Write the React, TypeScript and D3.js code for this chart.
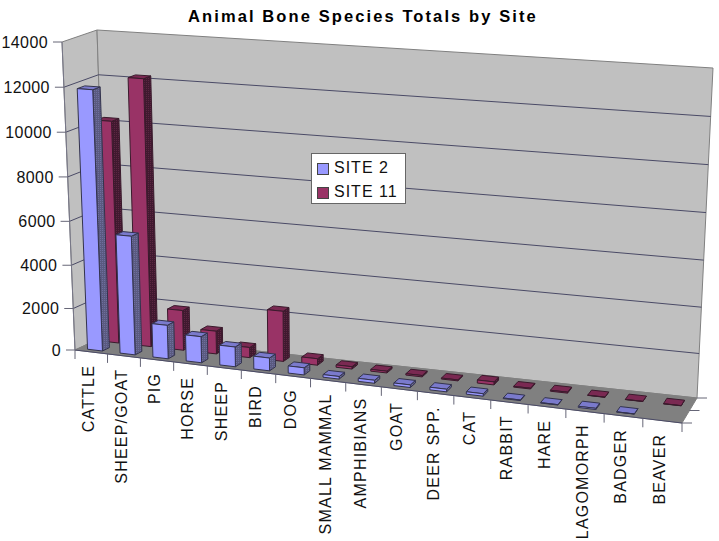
import React, { useEffect, useRef } from 'react';
import * as d3 from 'd3'

const categories = ['CATTLE', 'SHEEP/GOAT', 'PIG', 'HORSE', 'SHEEP', 'BIRD', 'DOG', 'SMALL MAMMAL', 'AMPHIBIANS', 'GOAT', 'DEER SPP.', 'CAT', 'RABBIT', 'HARE', 'LAGOMORPH', 'BADGER', 'BEAVER']
const site2 = [11900, 5500, 1600, 1250, 950, 620, 350, 130, 150, 130, 130, 120, 30, 20, 60, 10, 0]
const site11 = [10200, 12200, 1900, 1100, 500, 2350, 320, 120, 90, 70, 50, 150, 40, 50, 10, 10, 10]
const yTicks = [0, 2000, 4000, 6000, 8000, 10000, 12000, 14000]
const depthTicks = [0, 0.5, 1]

type Pt = [number, number]

// corners of the plot box on screen, [front-left, front-right, back-right, back-left]
const floorBox: Pt[] = [[75, 350], [682, 423], [697, 398], [107, 335]]
const topBox: Pt[] = [[62, 42], [698, 83], [713, 68], [97, 30]]
const perspective = 1.104

const xScale = d3.scaleLinear().domain([0, categories.length]).range([0, 1])
const yScale = d3.scalePow().exponent(1.03).domain([0, 14000]).range([0, 1])

const bilinear = (q: Pt[], u: number, z: number): Pt => {
  const a = d3.interpolateArray(q[0], q[1])(u)
  const b = d3.interpolateArray(q[3], q[2])(u)
  return d3.interpolateArray(a, b)(z) as Pt
}

// category position, depth 0..1 and value to a screen point
const project = (cat: number, z: number, value: number): Pt => {
  const t = xScale(cat)
  const u = t / (perspective + (1 - perspective) * t)
  const low = bilinear(floorBox, u, z)
  const high = bilinear(topBox, u, z)
  return d3.interpolateArray(low, high)(yScale(value)) as Pt
}

const App: React.FC = () => {
  const svgRef = useRef() as React.MutableRefObject<SVGSVGElement>

  useEffect(() => {
    const svg = d3.select(svgRef.current)
    svg.html('')
    const n = categories.length
    const line = d3.line()

    // the dithered shading of the bar sides
    const defs = svg.append('defs')
    const dither = (id: string, base: string, dot: string) => {
      const p = defs.append('pattern')
        .attr('id', id)
        .attr('width', 2).attr('height', 2)
        .attr('patternUnits', 'userSpaceOnUse')
      p.append('rect').attr('width', 2).attr('height', 2).attr('fill', base)
      p.append('rect').attr('width', 1).attr('height', 1).attr('fill', dot)
    }
    dither('side-blue', '#5a5a80', '#6e6e9e')
    dither('side-red', '#40192f', '#5c2642')

    const face = (pts: Pt[], fill: string, stroke: string) => {
      svg.append('path')
        .attr('d', line(pts) + 'Z')
        .attr('fill', fill)
        .attr('stroke', stroke)
        .attr('stroke-width', 1)
        .attr('stroke-linejoin', 'round')
    }
    const seg = (a: Pt, b: Pt, stroke: string, w = 1) => {
      svg.append('path')
        .attr('d', line([a, b]))
        .attr('fill', 'none')
        .attr('stroke', stroke)
        .attr('stroke-width', w)
    }

    // walls and floor
    face([project(0, 0, 0), project(0, 1, 0), project(0, 1, 14000), project(0, 0, 14000)], '#c0c0c0', '#808080')
    face([project(0, 1, 0), project(n, 1, 0), project(n, 1, 14000), project(0, 1, 14000)], '#c0c0c0', '#808080')
    face([project(0, 0, 0), project(n, 0, 0), project(n, 1, 0), project(0, 1, 0)], '#808080', '#808080')

    // gridlines
    yTicks.slice(1, -1).forEach(v => {
      seg(project(0, 0, v), project(0, 1, v), '#4a4a66')
      seg(project(0, 1, v), project(n, 1, v), '#4a4a66')
    })

    // axes
    seg(project(0, 0, 0), project(n, 0, 0), '#4a4a66')
    seg(project(0, 0, 0), project(0, 0, 14000), '#777788')
    yTicks.forEach(v => {
      const [x, y] = project(0, 0, v)
      seg([x - 9, y], [x, y], '#666677')
      svg.append('text')
        .attr('x', x - 14)
        .attr('y', y + 6)
        .attr('text-anchor', 'end')
        .attr('font-family', '"Liberation Sans", Arial, sans-serif')
        .attr('font-size', 16)
        .attr('letter-spacing', 0.4)
        .attr('fill', '#111')
        .text(v)
    })
    d3.range(n + 1).forEach(i => {
      const [x, y] = project(i, 0, 0)
      seg([x, y], [x, y + 9], '#666677')
    })
    depthTicks.forEach(z => {
      const [x, y] = project(n, z, 0)
      seg([x, y], [x + 10, y], '#666677')
    })

    // bars, back row first
    const bar = (i: number, value: number, z0: number, z1: number, front: string, side: string, top: string, edge: string) => {
      const x0 = i + 0.27
      const x1 = i + 0.73
      face([project(x1, z0, 0), project(x1, z1, 0), project(x1, z1, value), project(x1, z0, value)], side, edge)
      face([project(x0, z0, value), project(x1, z0, value), project(x1, z1, value), project(x0, z1, value)], top, edge)
      face([project(x0, z0, 0), project(x1, z0, 0), project(x1, z0, value), project(x0, z0, value)], front, edge)
    }
    site11.forEach((v, i) => bar(i, v, 0.64, 0.86, '#993366', 'url(#side-red)', '#7a2952', '#3a1a2c'))
    site2.forEach((v, i) => {
      if (v > 0) bar(i, v, 0.12, 0.34, '#9999ff', 'url(#side-blue)', '#7a7acc', '#33334d')
    })

    // category labels
    categories.forEach((c, i) => {
      const [x, y] = project(i + 0.5, 0, 0)
      svg.append('text')
        .attr('transform', `translate(${x + 3}, ${y + 13}) rotate(-90)`)
        .attr('text-anchor', 'end')
        .attr('font-family', '"Liberation Sans", Arial, sans-serif')
        .attr('font-size', 16)
        .attr('letter-spacing', 1.2)
        .attr('fill', '#111')
        .text(c)
    })

    // title
    svg.append('text')
      .attr('x', 188)
      .attr('y', 22)
      .attr('font-family', '"Liberation Sans", Arial, sans-serif')
      .attr('font-size', 16.5)
      .attr('font-weight', 'bold')
      .attr('letter-spacing', 2.1)
      .attr('fill', '#000')
      .text('Animal Bone Species Totals by Site')

    // legend
    svg.append('rect')
      .attr('x', 311.5).attr('y', 153.5).attr('width', 94).attr('height', 50)
      .attr('fill', '#fff').attr('stroke', '#666')
    const legend: [string, string, number][] = [['SITE 2', '#9999ff', 163], ['SITE 11', '#993366', 187]]
    legend.forEach(([label, color, y]) => {
      svg.append('rect')
        .attr('x', 317.5).attr('y', y + 0.5).attr('width', 11).attr('height', 11)
        .attr('fill', color).attr('stroke', '#444')
      svg.append('text')
        .attr('x', 334)
        .attr('y', y + 10)
        .attr('font-family', '"Liberation Sans", Arial, sans-serif')
        .attr('font-size', 16)
        .attr('letter-spacing', 1)
        .attr('fill', '#111')
        .text(label)
    })
  }, [])

  return <svg ref={svgRef} width={719} height={541} style={{ position: 'absolute', left: 0, top: 0 }} />
}

export default App
